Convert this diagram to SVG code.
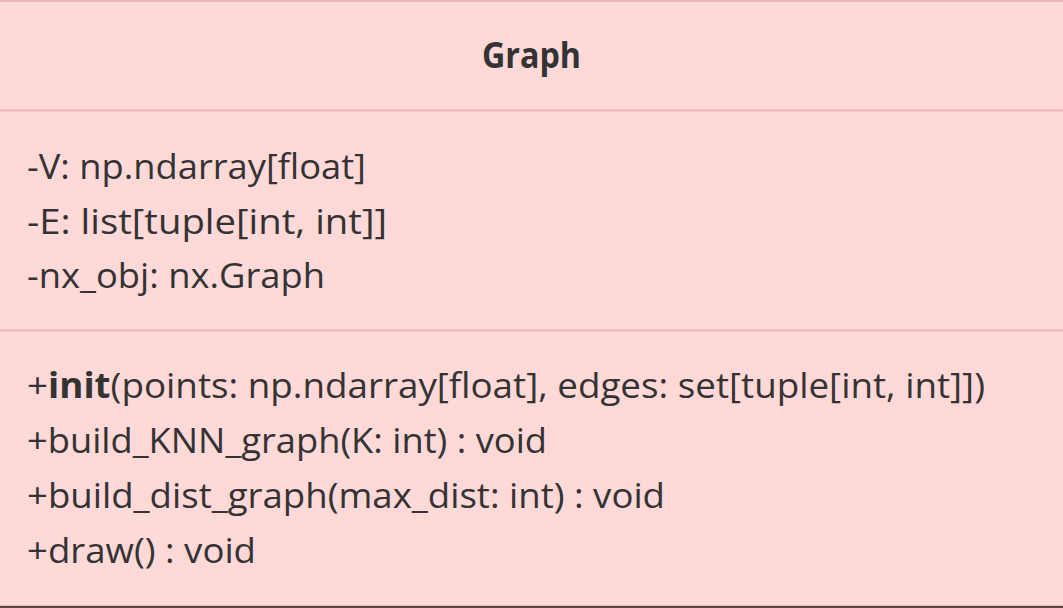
<svg xmlns="http://www.w3.org/2000/svg" width="1063" height="608" viewBox="0 0 1063 608">
<style>
.t{font-family:"Open Sans","Liberation Sans",sans-serif;font-size:35px;fill:#333333}
.b{font-weight:bold}
.div{stroke:#efb6b6;stroke-width:2}
</style>
<rect x="0" y="0" width="1063" height="608" fill="#ffd8d8"/>
<g id="class-Graph">
<rect x="-2" y="1" width="1067" height="605" fill="#ffd8d8" stroke="#efb6b6" stroke-width="2"/>
<line x1="0" y1="607" x2="1063" y2="607" stroke="#584848" stroke-width="2"/>
<text class="t b" x="531.5" y="68" text-anchor="middle" textLength="99" lengthAdjust="spacingAndGlyphs">Graph</text>
<line class="div" x1="0" y1="110.5" x2="1063" y2="110.5"/>
<text class="t" x="27" y="179" textLength="339" lengthAdjust="spacingAndGlyphs">-V: np.ndarray[float]</text>
<text class="t" x="27" y="234" textLength="360" lengthAdjust="spacingAndGlyphs">-E: list[tuple[int, int]]</text>
<text class="t" x="27" y="288" textLength="298" lengthAdjust="spacingAndGlyphs">-nx_obj: nx.Graph</text>
<line class="div" x1="0" y1="330.5" x2="1063" y2="330.5"/>
<text class="t" x="27" y="398" textLength="958" lengthAdjust="spacingAndGlyphs">+<tspan class="b">init</tspan>(points: np.ndarray[float], edges: set[tuple[int, int]])</text>
<text class="t" x="27" y="453" textLength="520" lengthAdjust="spacingAndGlyphs">+build_KNN_graph(K: int) : void</text>
<text class="t" x="27" y="508" textLength="638" lengthAdjust="spacingAndGlyphs">+build_dist_graph(max_dist: int) : void</text>
<text class="t" x="27" y="563" textLength="229" lengthAdjust="spacingAndGlyphs">+draw() : void</text>
</g>
<g id="connectors"/>
</svg>
